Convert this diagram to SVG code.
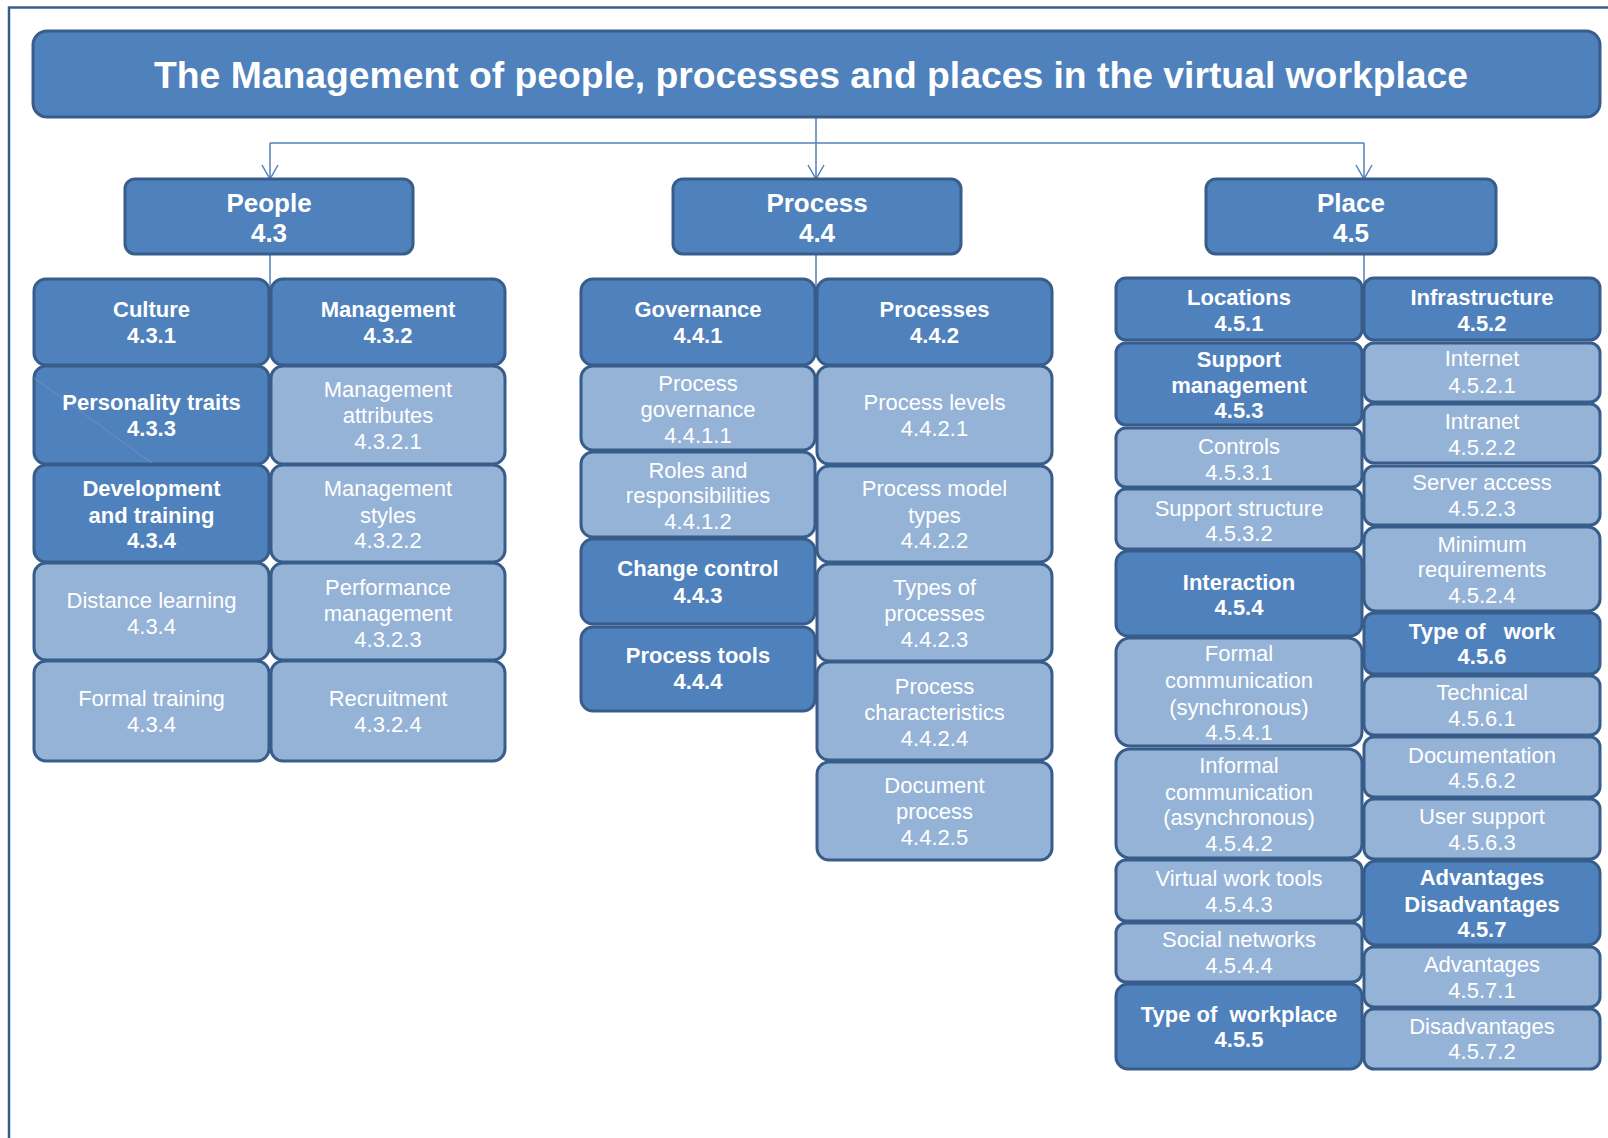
<svg xmlns="http://www.w3.org/2000/svg" width="1608" height="1138" viewBox="0 0 1608 1138">
<style>
.d{fill:#4f81bd;stroke:#385d8a;stroke-width:3}
.l{fill:#95b3d7;stroke:#385d8a;stroke-width:3}
.tb{font-family:"Liberation Sans",Arial,sans-serif;font-weight:bold;font-size:22px;fill:#fff;text-anchor:middle}
.tr{font-family:"Liberation Sans",Arial,sans-serif;font-size:22px;fill:#fff;text-anchor:middle}
.th{font-family:"Liberation Sans",Arial,sans-serif;font-weight:bold;font-size:26px;fill:#fff;text-anchor:middle}
.tt{font-family:"Liberation Sans",Arial,sans-serif;font-weight:bold;font-size:37.3px;fill:#fff;text-anchor:middle}
.c{fill:none;stroke:#4f81bd;stroke-width:1.5}
</style>
<defs>
<marker id="arr" viewBox="0 0 20 20" refX="18" refY="10" markerWidth="20" markerHeight="20" markerUnits="userSpaceOnUse" orient="auto">
<path d="M4,2 L18,10 L4,18" fill="none" stroke="#4f81bd" stroke-width="1.5"/>
</marker>
</defs>
<rect width="1608" height="1138" fill="#fff"/>
<path d="M9,1138 V7.5 H1608" fill="none" stroke="#385d8a" stroke-width="2.5"/>

<g id="connectors">
<line class="c" x1="816" y1="117" x2="816" y2="179" marker-end="url(#arr)"/>
<line class="c" x1="270" y1="143" x2="1364" y2="143"/>
<line class="c" x1="270" y1="143" x2="270" y2="179" marker-end="url(#arr)"/>
<line class="c" x1="1364" y1="143" x2="1364" y2="179" marker-end="url(#arr)"/>
<line class="c" x1="270" y1="254" x2="270" y2="290"/>
<line class="c" x1="816" y1="254" x2="816" y2="290"/>
<line class="c" x1="1364" y1="254" x2="1364" y2="290"/>
</g>

<g id="title">
<rect class="d" x="33" y="31" width="1567" height="86" rx="14"/>
<text class="tt" x="811" y="88">The Management of people, processes and places in the virtual workplace</text>
</g>

<g id="people">
<rect class="d" x="125" y="179" width="288" height="75" rx="10"/>
<text class="th"><tspan x="269" y="211.5">People</tspan><tspan x="269" y="242">4.3</tspan></text>
</g>
<g id="process">
<rect class="d" x="673" y="179" width="288" height="75" rx="10"/>
<text class="th"><tspan x="817" y="211.5">Process</tspan><tspan x="817" y="242">4.4</tspan></text>
</g>
<g id="place">
<rect class="d" x="1206" y="179" width="290" height="75" rx="10"/>
<text class="th"><tspan x="1351" y="211.5">Place</tspan><tspan x="1351" y="242">4.5</tspan></text>
</g>

<!-- People left column -->
<g id="culture">
<rect class="d" x="34" y="279" width="235" height="86" rx="12"/>
<text class="tb"><tspan x="151.5" y="316.7">Culture</tspan><tspan x="151.5" y="343.3">4.3.1</tspan></text>
</g>
<g id="personality">
<rect class="d" x="34" y="366" width="235" height="98" rx="12"/>
<line x1="34" y1="378" x2="152" y2="463" stroke="#6a91c4" stroke-width="1"/>
<text class="tb"><tspan x="151.5" y="410">Personality traits</tspan><tspan x="151.5" y="435.6">4.3.3</tspan></text>
</g>
<g id="development">
<rect class="d" x="34" y="465" width="235" height="97" rx="12"/>
<text class="tb"><tspan x="151.5" y="496">Development</tspan><tspan x="151.5" y="523">and training</tspan><tspan x="151.5" y="548.4">4.3.4</tspan></text>
</g>
<g id="distance">
<rect class="l" x="34" y="563" width="235" height="97" rx="12"/>
<text class="tr"><tspan x="151.5" y="608">Distance learning</tspan><tspan x="151.5" y="633.6">4.3.4</tspan></text>
</g>
<g id="formaltraining">
<rect class="l" x="34" y="661" width="235" height="100" rx="12"/>
<text class="tr"><tspan x="151.5" y="706.4">Formal training</tspan><tspan x="151.5" y="732">4.3.4</tspan></text>
</g>

<!-- People right column -->
<g id="management">
<rect class="d" x="271" y="279" width="234" height="86" rx="12"/>
<text class="tb"><tspan x="388" y="316.7">Management</tspan><tspan x="388" y="343.3">4.3.2</tspan></text>
</g>
<g id="mgmtattributes">
<rect class="l" x="271" y="366" width="234" height="98" rx="12"/>
<text class="tr"><tspan x="388" y="396.7">Management</tspan><tspan x="388" y="423.3">attributes</tspan><tspan x="388" y="449">4.3.2.1</tspan></text>
</g>
<g id="mgmtstyles">
<rect class="l" x="271" y="465" width="234" height="97" rx="12"/>
<text class="tr"><tspan x="388" y="496">Management</tspan><tspan x="388" y="523">styles</tspan><tspan x="388" y="548.4">4.3.2.2</tspan></text>
</g>
<g id="performance">
<rect class="l" x="271" y="563" width="234" height="97" rx="12"/>
<text class="tr"><tspan x="388" y="594.6">Performance</tspan><tspan x="388" y="621.3">management</tspan><tspan x="388" y="647">4.3.2.3</tspan></text>
</g>
<g id="recruitment">
<rect class="l" x="271" y="661" width="234" height="100" rx="12"/>
<text class="tr"><tspan x="388" y="706.4">Recruitment</tspan><tspan x="388" y="732">4.3.2.4</tspan></text>
</g>

<!-- Process left column -->
<g id="governance">
<rect class="d" x="581" y="279" width="234" height="86" rx="12"/>
<text class="tb"><tspan x="698" y="316.7">Governance</tspan><tspan x="698" y="343.3">4.4.1</tspan></text>
</g>
<g id="procgovernance">
<rect class="l" x="581" y="366" width="234" height="84" rx="12"/>
<text class="tr"><tspan x="698" y="390.5">Process</tspan><tspan x="698" y="417.2">governance</tspan><tspan x="698" y="442.8">4.4.1.1</tspan></text>
</g>
<g id="roles">
<rect class="l" x="581" y="452" width="234" height="85" rx="12"/>
<text class="tr"><tspan x="698" y="477.7">Roles and</tspan><tspan x="698" y="503.3">responsibilities</tspan><tspan x="698" y="529">4.4.1.2</tspan></text>
</g>
<g id="changecontrol">
<rect class="d" x="581" y="539" width="234" height="85" rx="12"/>
<text class="tb"><tspan x="698" y="576">Change control</tspan><tspan x="698" y="602.8">4.4.3</tspan></text>
</g>
<g id="processtools">
<rect class="d" x="581" y="627" width="234" height="84" rx="12"/>
<text class="tb"><tspan x="698" y="663.3">Process tools</tspan><tspan x="698" y="689">4.4.4</tspan></text>
</g>

<!-- Process right column -->
<g id="processes">
<rect class="d" x="817" y="279" width="235" height="86" rx="12"/>
<text class="tb"><tspan x="934.5" y="316.7">Processes</tspan><tspan x="934.5" y="343.3">4.4.2</tspan></text>
</g>
<g id="proclevels">
<rect class="l" x="817" y="366" width="235" height="98" rx="12"/>
<text class="tr"><tspan x="934.5" y="410">Process levels</tspan><tspan x="934.5" y="435.6">4.4.2.1</tspan></text>
</g>
<g id="procmodel">
<rect class="l" x="817" y="466" width="235" height="96" rx="12"/>
<text class="tr"><tspan x="934.5" y="496">Process model</tspan><tspan x="934.5" y="523">types</tspan><tspan x="934.5" y="548.4">4.4.2.2</tspan></text>
</g>
<g id="typesproc">
<rect class="l" x="817" y="564" width="235" height="97" rx="12"/>
<text class="tr"><tspan x="934.5" y="594.6">Types of</tspan><tspan x="934.5" y="621.3">processes</tspan><tspan x="934.5" y="647">4.4.2.3</tspan></text>
</g>
<g id="procchar">
<rect class="l" x="817" y="662" width="235" height="98" rx="12"/>
<text class="tr"><tspan x="934.5" y="694">Process</tspan><tspan x="934.5" y="719.7">characteristics</tspan><tspan x="934.5" y="746.4">4.4.2.4</tspan></text>
</g>
<g id="docprocess">
<rect class="l" x="817" y="762" width="235" height="98" rx="12"/>
<text class="tr"><tspan x="934.5" y="792.5">Document</tspan><tspan x="934.5" y="819.2">process</tspan><tspan x="934.5" y="844.8">4.4.2.5</tspan></text>
</g>

<!-- Place left column -->
<g id="locations">
<rect class="d" x="1116" y="278" width="246" height="62" rx="10"/>
<text class="tb"><tspan x="1239" y="305.4">Locations</tspan><tspan x="1239" y="331">4.5.1</tspan></text>
</g>
<g id="supportmgmt">
<rect class="d" x="1116" y="343" width="246" height="82" rx="10"/>
<text class="tb"><tspan x="1239" y="366.9">Support</tspan><tspan x="1239" y="392.6">management</tspan><tspan x="1239" y="418.2">4.5.3</tspan></text>
</g>
<g id="controls">
<rect class="l" x="1116" y="428" width="246" height="59" rx="10"/>
<text class="tr"><tspan x="1239" y="454">Controls</tspan><tspan x="1239" y="479.7">4.5.3.1</tspan></text>
</g>
<g id="supportstructure">
<rect class="l" x="1116" y="489" width="246" height="60" rx="10"/>
<text class="tr"><tspan x="1239" y="515.6">Support structure</tspan><tspan x="1239" y="541.3">4.5.3.2</tspan></text>
</g>
<g id="interaction">
<rect class="d" x="1116" y="551" width="246" height="85" rx="12"/>
<text class="tb"><tspan x="1239" y="589.5">Interaction</tspan><tspan x="1239" y="615">4.5.4</tspan></text>
</g>
<g id="formalcomm">
<rect class="l" x="1116" y="638" width="246" height="108" rx="14"/>
<text class="tr"><tspan x="1239" y="661.2">Formal</tspan><tspan x="1239" y="688">communication</tspan><tspan x="1239" y="714.6">(synchronous)</tspan><tspan x="1239" y="740.2">4.5.4.1</tspan></text>
</g>
<g id="informalcomm">
<rect class="l" x="1116" y="749" width="246" height="109" rx="14"/>
<text class="tr"><tspan x="1239" y="773">Informal</tspan><tspan x="1239" y="799.7">communication</tspan><tspan x="1239" y="825.3">(asynchronous)</tspan><tspan x="1239" y="851">4.5.4.2</tspan></text>
</g>
<g id="virtualtools">
<rect class="l" x="1116" y="860" width="246" height="61" rx="10"/>
<text class="tr"><tspan x="1239" y="885.8">Virtual work tools</tspan><tspan x="1239" y="911.5">4.5.4.3</tspan></text>
</g>
<g id="socialnetworks">
<rect class="l" x="1116" y="923" width="246" height="59" rx="10"/>
<text class="tr"><tspan x="1239" y="947.4">Social networks</tspan><tspan x="1239" y="973">4.5.4.4</tspan></text>
</g>
<g id="typeworkplace">
<rect class="d" x="1116" y="984" width="246" height="85" rx="12"/>
<text class="tb" xml:space="preserve"><tspan x="1239" y="1022.2">Type of  workplace</tspan><tspan x="1239" y="1046.8">4.5.5</tspan></text>
</g>

<!-- Place right column -->
<g id="infrastructure">
<rect class="d" x="1364" y="278" width="236" height="62" rx="10"/>
<text class="tb"><tspan x="1482" y="305.4">Infrastructure</tspan><tspan x="1482" y="331">4.5.2</tspan></text>
</g>
<g id="internet">
<rect class="l" x="1364" y="343" width="236" height="59" rx="10"/>
<text class="tr"><tspan x="1482" y="365.9">Internet</tspan><tspan x="1482" y="392.6">4.5.2.1</tspan></text>
</g>
<g id="intranet">
<rect class="l" x="1364" y="404" width="236" height="59" rx="10"/>
<text class="tr"><tspan x="1482" y="428.5">Intranet</tspan><tspan x="1482" y="455.1">4.5.2.2</tspan></text>
</g>
<g id="serveraccess">
<rect class="l" x="1364" y="466" width="236" height="59" rx="10"/>
<text class="tr"><tspan x="1482" y="490">Server access</tspan><tspan x="1482" y="515.6">4.5.2.3</tspan></text>
</g>
<g id="minreq">
<rect class="l" x="1364" y="527" width="236" height="84" rx="12"/>
<text class="tr"><tspan x="1482" y="551.5">Minimum</tspan><tspan x="1482" y="577.2">requirements</tspan><tspan x="1482" y="602.8">4.5.2.4</tspan></text>
</g>
<g id="typework">
<rect class="d" x="1364" y="613" width="236" height="61" rx="10"/>
<text class="tb" xml:space="preserve"><tspan x="1482" y="638.7">Type of   work</tspan><tspan x="1482" y="664.3">4.5.6</tspan></text>
</g>
<g id="technical">
<rect class="l" x="1364" y="676" width="236" height="59" rx="10"/>
<text class="tr"><tspan x="1482" y="700.2">Technical</tspan><tspan x="1482" y="725.9">4.5.6.1</tspan></text>
</g>
<g id="documentation">
<rect class="l" x="1364" y="737" width="236" height="60" rx="10"/>
<text class="tr"><tspan x="1482" y="762.8">Documentation</tspan><tspan x="1482" y="788.4">4.5.6.2</tspan></text>
</g>
<g id="usersupport">
<rect class="l" x="1364" y="799" width="236" height="60" rx="10"/>
<text class="tr"><tspan x="1482" y="824.3">User support</tspan><tspan x="1482" y="850">4.5.6.3</tspan></text>
</g>
<g id="advdisadv">
<rect class="d" x="1364" y="861" width="236" height="84" rx="12"/>
<text class="tb"><tspan x="1482" y="884.8">Advantages</tspan><tspan x="1482" y="911.5">Disadvantages</tspan><tspan x="1482" y="937.1">4.5.7</tspan></text>
</g>
<g id="advantages">
<rect class="l" x="1364" y="947" width="236" height="60" rx="10"/>
<text class="tr"><tspan x="1482" y="972">Advantages</tspan><tspan x="1482" y="997.6">4.5.7.1</tspan></text>
</g>
<g id="disadvantages">
<rect class="l" x="1364" y="1009" width="236" height="60" rx="10"/>
<text class="tr"><tspan x="1482" y="1033.5">Disadvantages</tspan><tspan x="1482" y="1059.1">4.5.7.2</tspan></text>
</g>
</svg>
